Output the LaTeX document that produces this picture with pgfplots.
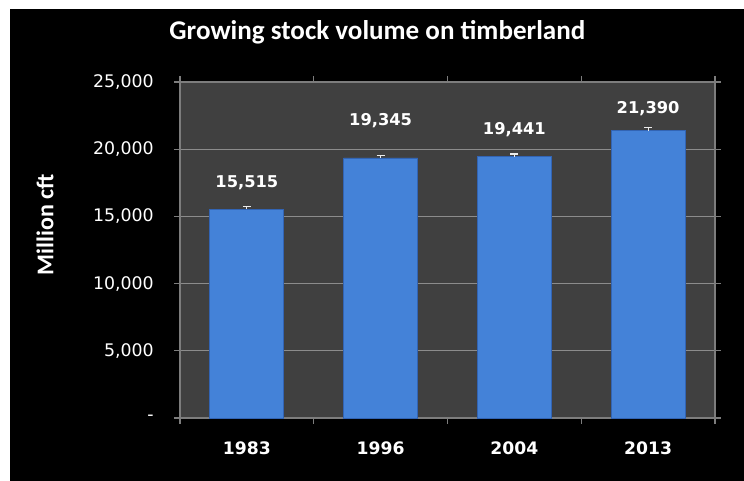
\documentclass[border=0pt]{standalone}
\usepackage{pgfplots}
\pgfplotsset{compat=1.18}
\usepackage{pgfplotstable}
\usepackage{fontspec}
\setmainfont{Carlito}
\newfontfamily\dejavu{DejaVu Sans}
\definecolor{plotbg}{RGB}{64,64,64}
\definecolor{bordergray}{RGB}{125,125,125}
\definecolor{gridgray}{RGB}{140,140,140}
\definecolor{barblue}{RGB}{68,130,216}
\definecolor{bardark}{RGB}{50,100,180}
\pgfplotstableread{
x y err
0 15515 200
1 19345 200
2 19441 200
3 21390 200
}\bars
\pgfplotstableread{
x y lab
0 17485 15,515
1 22098 19,345
2 21428 19,441
3 22991 21,390
}\labels
\begin{document}
\begin{tikzpicture}[x=0.75pt,y=0.75pt]
\fill[white] (0,0) rectangle (744,481);
\fill[black] (10,-30) rectangle (780,472);
\begin{axis}[
  at={(135pt,47.25pt)}, anchor=south west,
  scale only axis, width=401.25pt, height=252pt,
  xmin=-0.5, xmax=3.5, ymin=0, ymax=25000,
  scaled y ticks=false,
  axis background/.style={fill=plotbg},
  axis line style={draw=bordergray, line width=0.8pt},
  xtick={0,1,2,3}, xticklabels={1983,1996,2004,2013},
  minor xtick={-0.5,0.5,1.5,2.5,3.5},
  major x tick style={draw=none},
  minor x tick style={draw=bordergray, line width=0.8pt},
  ytick={0,5000,10000,15000,20000,25000},
  yticklabels={{-\hspace{7.5pt}},{5,000},{10,000},{15,000},{20,000},{25,000}},
  tick align=outside, major tick length=4.5pt, minor tick length=4.5pt,
  y tick style={draw=bordergray, line width=0.8pt},
  ymajorgrids=true, grid style={draw=gridgray, line width=0.9pt},
  yticklabel style={font=\dejavu\fontsize{13pt}{15pt}\selectfont, text=white, inner sep=0pt, anchor=east, xshift=-15pt},
  xticklabel style={font=\dejavu\bfseries\fontsize{12.9pt}{15pt}\selectfont, text=white, inner sep=0pt, anchor=center, yshift=-18pt},
  title={Growing stock volume on timberland},
  title style={font=\bfseries\fontsize{20.3pt}{24pt}\selectfont, text=white, at={(axis description cs:0.369,1.125)}, anchor=center},
  ylabel={Million cft},
  every axis y label/.style={font=\bfseries\fontsize{18pt}{21pt}\selectfont, text=white, at={(axis description cs:-0.2523,0.575)}, rotate=90, anchor=center},
  clip=false,
]
\addplot[ybar, bar width=55.5pt, bar shift=0pt, fill=barblue, draw=bardark, line width=0.6pt,
  error bars/.cd, y dir=plus, y explicit,
  error bar style={draw=white!85!gray, line width=0.8pt},
  error mark options={rotate=90, mark size=3pt, draw=white!85!gray, line width=0.8pt}]
  table[x=x, y=y, y error=err] {\bars};
\addplot[draw=none, mark=none, nodes near coords, point meta=explicit symbolic,
  nodes near coords style={font=\dejavu\bfseries\fontsize{12.2pt}{15pt}\selectfont, text=white, anchor=center, inner sep=0pt}]
  table[x=x, y=y, meta=lab] {\labels};
\end{axis}
\pgfresetboundingbox
\useasboundingbox (0,0) rectangle (744,481);
\end{tikzpicture}
\end{document}
